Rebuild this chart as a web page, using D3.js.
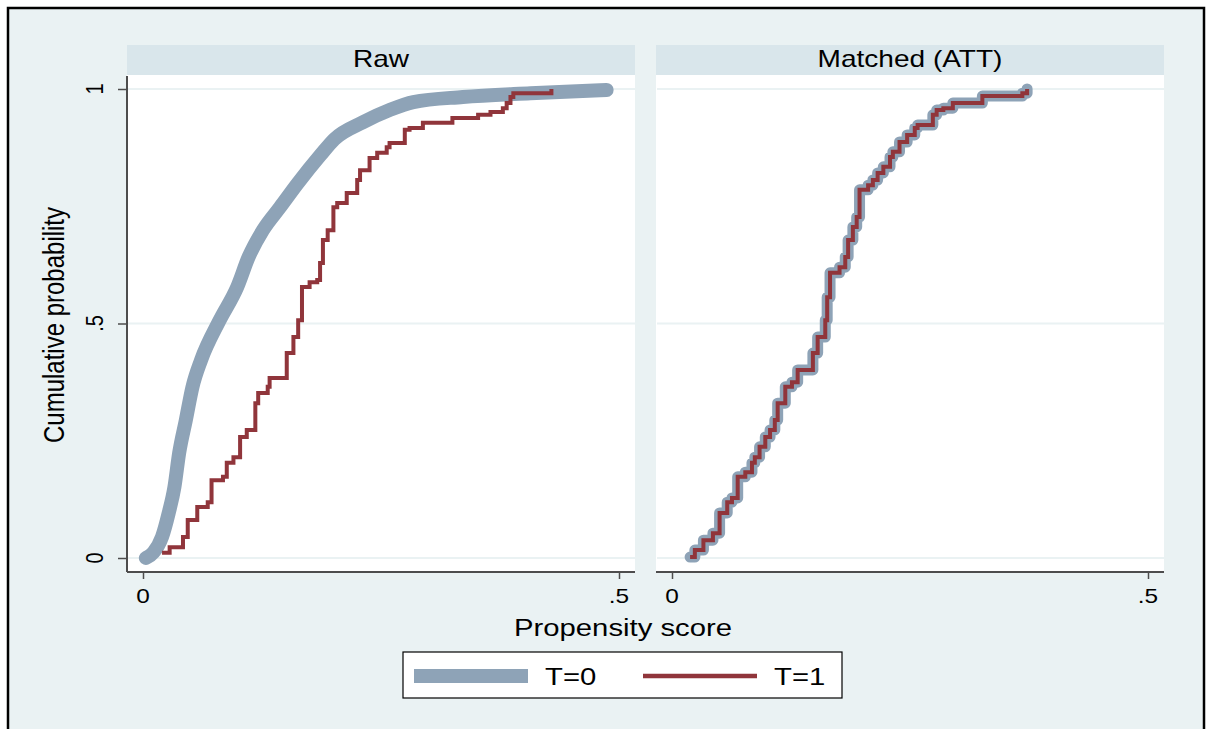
<!DOCTYPE html>
<html>
<head>
<meta charset="utf-8">
<script src="https://cdn.jsdelivr.net/npm/d3@7"></script>
<style>
  body { margin: 0; background: #fff; }
  svg text { font-family: "Liberation Sans", Arial, sans-serif; fill: #000; }
</style>
</head>
<body>
<div id="chart"></div>
<script>
// panels and ticks
var panelTitles = ['Raw', 'Matched (ATT)']
var xTicks = [0, 0.5]
var xTickLabels = ['0', '.5']
var yTicks = [0, 0.5, 1]
var yTickLabels = ['0', '.5', '1']
var groups = ['T=0', 'T=1']

// raw sample, T=0 (smooth ecdf)
var rawT0x = [0.003, 0.011, 0.020, 0.027, 0.033, 0.038, 0.045, 0.052, 0.061, 0.080, 0.099, 0.111, 0.126, 0.144, 0.163, 0.186, 0.201, 0.231, 0.259, 0.284, 0.336, 0.407, 0.487]
var rawT0y = [0.000, 0.012, 0.045, 0.096, 0.151, 0.224, 0.294, 0.365, 0.422, 0.505, 0.578, 0.642, 0.699, 0.748, 0.800, 0.858, 0.893, 0.929, 0.955, 0.972, 0.983, 0.991, 0.998]

// raw sample, T=1 (step ecdf)
var rawT1x = [0.020, 0.028, 0.042, 0.047, 0.057, 0.068, 0.072, 0.084, 0.088, 0.095, 0.102, 0.109, 0.118, 0.121, 0.131, 0.133, 0.151, 0.158, 0.163, 0.167, 0.175, 0.183, 0.186, 0.189, 0.194, 0.200, 0.204, 0.214, 0.225, 0.228, 0.238, 0.246, 0.256, 0.259, 0.275, 0.280, 0.294, 0.325, 0.352, 0.365, 0.378, 0.382, 0.386, 0.389, 0.429]
var rawT1y = [0.011, 0.023, 0.045, 0.081, 0.109, 0.119, 0.166, 0.173, 0.203, 0.215, 0.258, 0.273, 0.330, 0.352, 0.365, 0.384, 0.437, 0.471, 0.507, 0.578, 0.588, 0.593, 0.629, 0.678, 0.699, 0.748, 0.757, 0.778, 0.806, 0.827, 0.853, 0.864, 0.876, 0.885, 0.913, 0.917, 0.928, 0.938, 0.945, 0.951, 0.959, 0.970, 0.983, 0.991, 1.000]

// matched sample (T=0 and T=1 coincide after matching)
var matchedX = [0.019, 0.024, 0.033, 0.043, 0.050, 0.058, 0.063, 0.069, 0.077, 0.084, 0.087, 0.092, 0.098, 0.103, 0.108, 0.111, 0.119, 0.126, 0.132, 0.148, 0.153, 0.161, 0.163, 0.166, 0.176, 0.182, 0.185, 0.190, 0.194, 0.197, 0.206, 0.211, 0.216, 0.222, 0.229, 0.232, 0.239, 0.247, 0.255, 0.258, 0.274, 0.278, 0.285, 0.295, 0.326, 0.368, 0.373]
var matchedT0y = [0.002, 0.017, 0.038, 0.053, 0.096, 0.119, 0.128, 0.173, 0.183, 0.203, 0.215, 0.237, 0.258, 0.273, 0.294, 0.330, 0.365, 0.375, 0.401, 0.437, 0.471, 0.507, 0.556, 0.608, 0.620, 0.642, 0.678, 0.706, 0.727, 0.785, 0.795, 0.806, 0.821, 0.834, 0.855, 0.866, 0.887, 0.902, 0.917, 0.923, 0.945, 0.955, 0.959, 0.970, 0.985, 0.991, 1.000]
var matchedT1y = matchedT0y

var W = 1206, H = 729
var grey = '#8ea3b7', maroon = '#90353b'
var bg = '#eaf2f3', strip = '#d9e6eb'
var stretch = 1.22   // the original graph is drawn wider than tall

var svg = d3.select('#chart').append('svg')
  .attr('width', W)
  .attr('height', H)

// text helper: put a label at x,y, widened like the source picture
function label(parent, x, y, txt, size, anchor, rotate) {
  return parent.append('text')
    .attr('transform', 'translate(' + x + ',' + y + ') scale(' + stretch + ',1)' + (rotate ? ' rotate(-90)' : ''))
    .attr('text-anchor', anchor || 'middle')
    .style('font-size', size + 'px')
    .text(txt)
}

// outer frame
svg.append('rect')
  .attr('x', 8).attr('y', 8)
  .attr('width', 1196).attr('height', 730)
  .attr('fill', bg)
  .attr('stroke', '#000')
  .attr('stroke-width', 2.5)

var y = d3.scaleLinear().domain([0, 1]).range([558, 89])

var panels = [
  { title: panelTitles[0], left: 127, right: 635, x: d3.scaleLinear().domain([0, 0.5]).range([143, 619]) },
  { title: panelTitles[1], left: 656, right: 1164, x: d3.scaleLinear().domain([0, 0.5]).range([672, 1148]) }
]

function zip(xs, ys) {
  return xs.map(function(d, i) { return [d, ys[i]] })
}

panels.forEach(function(p, i) {
  var g = svg.append('g')

  // plot area
  g.append('rect')
    .attr('x', p.left).attr('y', 75)
    .attr('width', p.right - p.left).attr('height', 572 - 75)
    .attr('fill', '#fff')

  // strip title
  g.append('rect')
    .attr('x', p.left).attr('y', 45)
    .attr('width', p.right - p.left).attr('height', 30)
    .attr('fill', strip)
  label(g, (p.left + p.right) / 2, 67, p.title, 23)

  // grid lines
  g.selectAll('.grid')
    .data(yTicks)
    .enter().append('line')
    .attr('x1', p.left + 1).attr('x2', p.right)
    .attr('y1', function(d) { return y(d) })
    .attr('y2', function(d) { return y(d) })
    .attr('stroke', bg)
    .attr('stroke-width', 2)

  // x axis (labels drawn below by hand to widen them)
  var xAxis = d3.axisBottom(p.x)
    .tickValues(xTicks)
    .tickSize(7)
    .tickFormat('')
  var ax = g.append('g')
    .attr('transform', 'translate(0,572)')
    .call(xAxis)
  ax.select('.domain').remove()
  ax.append('line')
    .attr('x1', p.left).attr('x2', p.right)
    .attr('stroke', '#4d4d4d').attr('stroke-width', 2)
  ax.selectAll('.tick line').attr('stroke', '#4d4d4d').attr('stroke-width', 1.5)
  xTicks.forEach(function(t, j) {
    label(g, p.x(t), 603, xTickLabels[j], 20)
  })

  var lineStep = d3.line()
    .x(function(d) { return p.x(d[0]) })
    .y(function(d) { return y(d[1]) })
    .curve(d3.curveStepAfter)

  if (i === 0) {
    // y axis only on the first panel
    var yAxis = d3.axisLeft(y)
      .tickValues(yTicks)
      .tickSize(9)
      .tickFormat('')
    var ay = g.append('g')
      .attr('transform', 'translate(' + p.left + ',0)')
      .call(yAxis)
    ay.select('.domain').remove()
    ay.append('line')
      .attr('y1', 76).attr('y2', 572)
      .attr('stroke', '#4d4d4d').attr('stroke-width', 2)
    ay.selectAll('.tick line').attr('stroke', '#4d4d4d').attr('stroke-width', 1.5)
    yTicks.forEach(function(t, j) {
      label(g, 103, y(t), yTickLabels[j], 20, 'middle', true)
    })

    var lineSmooth = d3.line()
      .x(function(d) { return p.x(d[0]) })
      .y(function(d) { return y(d[1]) })
      .curve(d3.curveMonotoneX)

    g.append('path')
      .datum(zip(rawT0x, rawT0y))
      .attr('d', lineSmooth)
      .attr('fill', 'none')
      .attr('stroke', grey)
      .attr('stroke-width', 14)
      .attr('stroke-linecap', 'round')
      .attr('stroke-linejoin', 'round')

    g.append('path')
      .datum(zip(rawT1x, rawT1y))
      .attr('d', lineStep)
      .attr('fill', 'none')
      .attr('stroke', maroon)
      .attr('stroke-width', 4)
  } else {
    g.append('path')
      .datum(zip(matchedX, matchedT0y))
      .attr('d', lineStep)
      .attr('fill', 'none')
      .attr('stroke', grey)
      .attr('stroke-width', 11)
      .attr('stroke-linecap', 'round')
      .attr('stroke-linejoin', 'round')

    g.append('path')
      .datum(zip(matchedX, matchedT1y))
      .attr('d', lineStep)
      .attr('fill', 'none')
      .attr('stroke', maroon)
      .attr('stroke-width', 4)
  }
})

// axis titles
label(svg, 623, 636, 'Propensity score', 24)
label(svg, 64, 325, 'Cumulative probability', 24, 'middle', true)

// legend
var legend = svg.append('g')
legend.append('rect')
  .attr('x', 403).attr('y', 652)
  .attr('width', 439).attr('height', 46)
  .attr('fill', '#fff')
  .attr('stroke', '#000')
  .attr('stroke-width', 1.2)

var legendItems = [
  { label: groups[0], color: grey, width: 14, x: 414, tx: 545 },
  { label: groups[1], color: maroon, width: 4.5, x: 643, tx: 774 }
]
legend.selectAll('.swatch')
  .data(legendItems)
  .enter().append('line')
  .attr('x1', function(d) { return d.x })
  .attr('x2', function(d) { return d.x + 114 })
  .attr('y1', 676).attr('y2', 676)
  .attr('stroke', function(d) { return d.color })
  .attr('stroke-width', function(d) { return d.width })
legendItems.forEach(function(d) {
  label(legend, d.tx, 685, d.label, 24, 'start')
})
</script>
</body>
</html>
